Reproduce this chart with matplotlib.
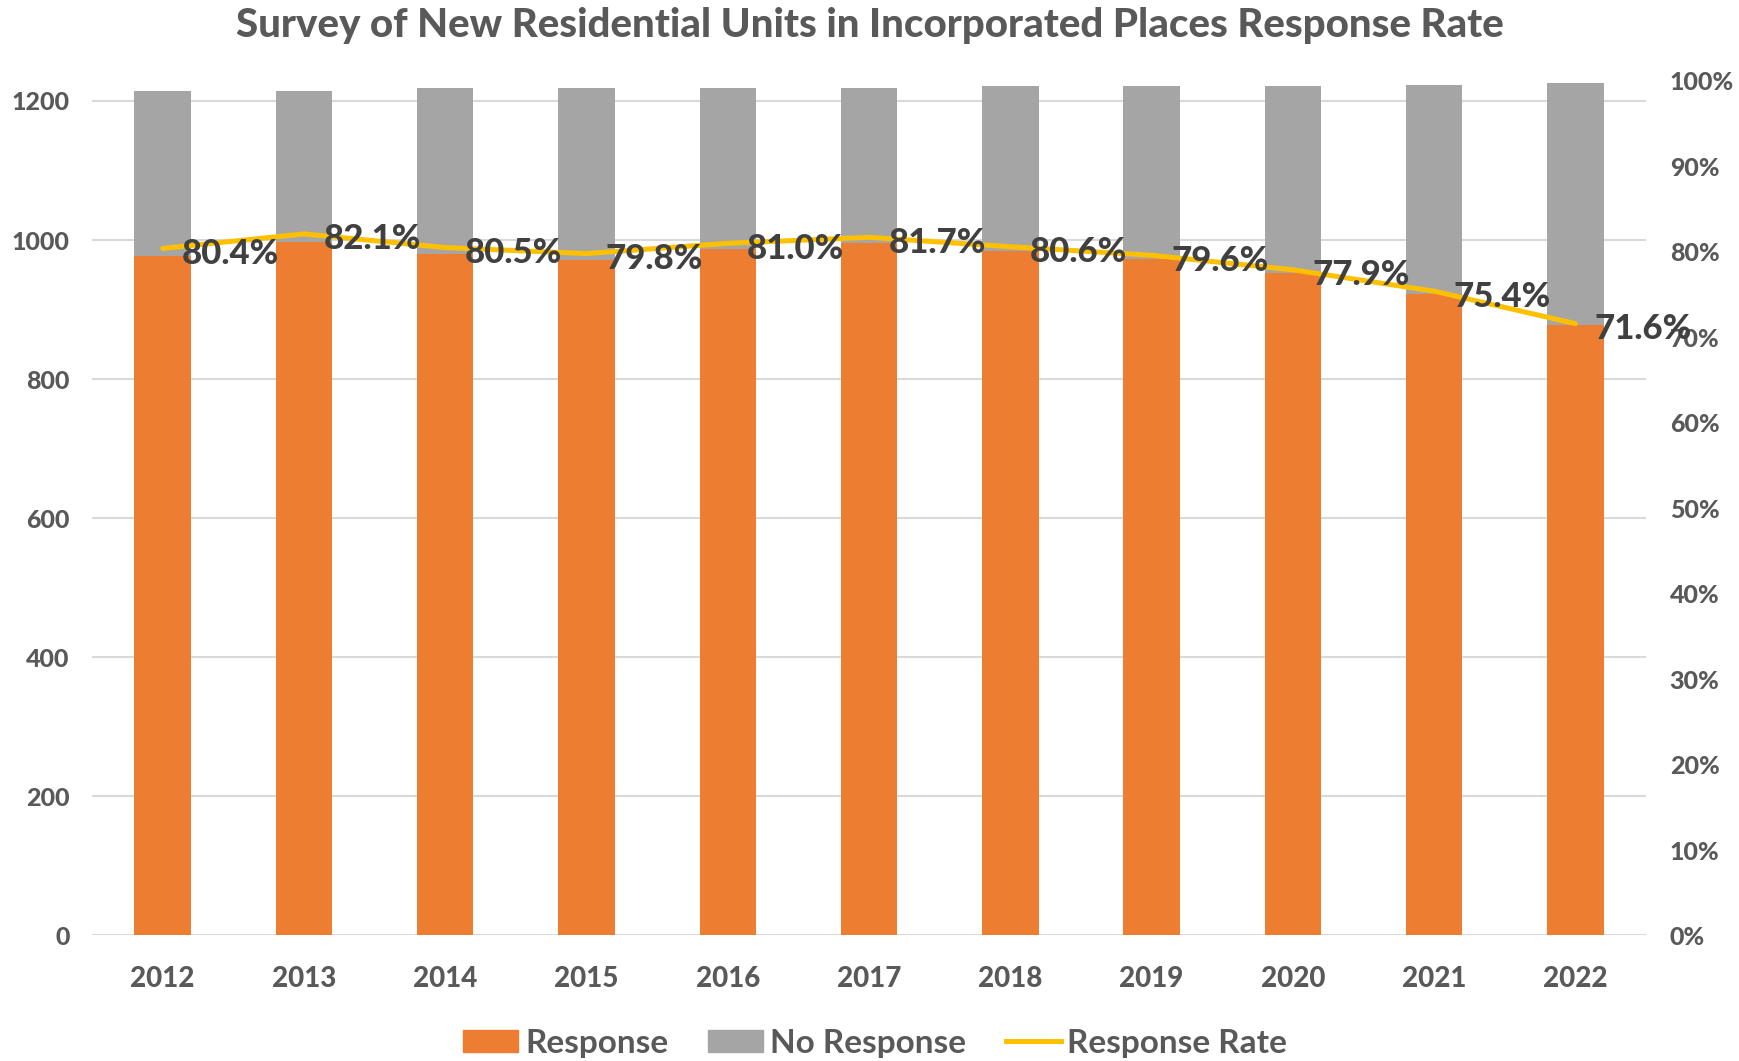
import matplotlib
matplotlib.use("Agg")
import matplotlib.pyplot as plt
from matplotlib.patches import Patch
from matplotlib.lines import Line2D

plt.rcParams['font.family'] = ['Lato', 'DejaVu Sans']

years = ['2012', '2013', '2014', '2015', '2016', '2017', '2018', '2019', '2020', '2021', '2022']
response = [977, 997, 980, 972, 987, 996, 984, 973, 952, 922, 878]
no_response = [238, 218, 238, 246, 232, 223, 237, 249, 270, 301, 348]
rate = [0.804, 0.821, 0.805, 0.798, 0.810, 0.817, 0.806, 0.796, 0.779, 0.754, 0.716]
rate_labels = ['80.4%', '82.1%', '80.5%', '79.8%', '81.0%', '81.7%', '80.6%', '79.6%', '77.9%', '75.4%', '71.6%']
left_ticks = [0, 200, 400, 600, 800, 1000, 1200]
right_ticks = [0, 0.1, 0.2, 0.3, 0.4, 0.5, 0.6, 0.7, 0.8, 0.9, 1.0]

orange = '#ED7D31'
grey = '#A5A5A5'
yellow = '#FFC000'
txt = '#595959'
heavy = 900

fig = plt.figure(figsize=(17.4, 10.61), dpi=100)
ax = fig.add_axes([0.0529, 0.1183, 0.8931, 0.8054])
x = range(len(years))

ax.bar(x, response, width=0.4, color=orange, zorder=2)
ax.bar(x, no_response, width=0.4, bottom=response, color=grey, zorder=2)
ax.set_xlim(-0.5, len(years) - 0.5)
ax.set_ylim(0, 1228.8)
ax.set_yticks(left_ticks)
ax.set_xticks(list(x))
ax.set_xticklabels(years)
ax.grid(axis='y', color='#D9D9D9', linewidth=1.5, zorder=0)
ax.set_axisbelow(True)
for s in ax.spines.values():
    s.set_visible(False)
ax.tick_params(axis='y', length=0, pad=16, labelsize=18, labelcolor=txt)
ax.tick_params(axis='x', length=0, pad=22, labelsize=20, labelcolor=txt)
for lab in ax.get_xticklabels() + ax.get_yticklabels():
    lab.set_fontweight(heavy)

ax2 = ax.twinx()
ax2.plot(list(x), rate, color=yellow, linewidth=3.6, solid_capstyle='round', zorder=3)
ax2.set_ylim(0, 1.0)
ax2.set_yticks(right_ticks)
ax2.set_yticklabels(['%d%%' % round(t * 100) for t in right_ticks])
for s in ax2.spines.values():
    s.set_visible(False)
ax2.tick_params(axis='y', length=0, pad=17, labelsize=18, labelcolor=txt)
for lab in ax2.get_yticklabels():
    lab.set_fontweight(heavy)

for i, r in enumerate(rate):
    ax2.annotate(rate_labels[i], (i, r), xytext=(14, -4), textcoords='offset points',
                 ha='left', va='center', fontsize=25, fontweight=heavy, color='#404040', zorder=4)

fig.suptitle('Survey of New Residential Units in Incorporated Places Response Rate',
             x=0.5, y=0.993, va='top', fontsize=29, fontweight=heavy, color=txt)

handles = [Patch(color=orange), Patch(color=grey), Line2D([0], [0], color=yellow, linewidth=3.6)]
fig.legend(handles, ['Response', 'No Response', 'Response Rate'], loc='lower center',
           bbox_to_anchor=(0.503, -0.025), ncol=3, frameon=False,
           prop={'size': 24, 'weight': 'bold'},
           labelcolor=txt, handlelength=1.65, handleheight=0.65, handletextpad=0.2,
           columnspacing=1.2)

fig.savefig('out.png', dpi=100)
